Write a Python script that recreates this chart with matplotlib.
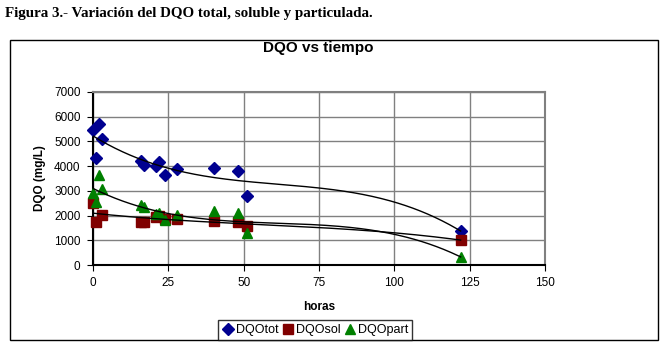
import numpy as np
import matplotlib.pyplot as plt
from matplotlib.patches import Rectangle

# Data
horas_tot = [0, 1, 2, 3, 16, 17, 21, 22, 24, 28, 40, 48, 51, 122]
dqo_tot = [5480, 4310, 5720, 5080, 4210, 4040, 4000, 4170, 3660, 3900, 3930, 3810, 2810, 1380]

horas_sol = [0, 1, 3, 16, 17, 21, 22, 24, 28, 40, 48, 51, 122]
dqo_sol = [2520, 1720, 2020, 1760, 1760, 1960, 2000, 1880, 1860, 1770, 1720, 1560, 1010]

horas_part = [0, 1, 2, 3, 16, 17, 21, 22, 24, 28, 40, 48, 51, 122]
dqo_part = [2920, 2540, 3640, 3060, 2430, 2330, 2050, 2110, 1820, 2020, 2190, 2090, 1290, 330]

plt.rcParams['font.family'] = ['Liberation Sans', 'DejaVu Sans']

fig = plt.figure(figsize=(6.65, 3.6), dpi=100)
fig.text(0.008, 0.963, 'Figura 3.- Variación del DQO total, soluble y particulada.',
         family='Liberation Serif', fontweight='bold', fontsize=10.8, va='center')
fig.patches.append(Rectangle((10 / 665, 1 - 340 / 360), 648 / 665, 300 / 360,
                             transform=fig.transFigure, fill=False, ec='black', lw=1))

ax = fig.add_axes([93 / 665, 1 - 265 / 360, 452 / 665, 173 / 360])

series = [
    (horas_tot, dqo_tot, 'D', '#000090', 'DQOtot', 6.5),
    (horas_sol, dqo_sol, 's', '#800000', 'DQOsol', 7.5),
    (horas_part, dqo_part, '^', '#008000', 'DQOpart', 7.5),
]
xs = np.linspace(0, 122, 200)
for x, y, m, c, lab, ms in series:
    ax.plot(x, y, m, color=c, ms=ms, mec=c, label=lab, zorder=3, clip_on=False)
    # Excel-style polynomial trendline
    coef = np.polyfit(x, y, 3)
    ax.plot(xs, np.polyval(coef, xs), color='black', lw=1, zorder=4)

ax.set_xlim(0, 150)
ax.set_ylim(0, 7000)
ax.set_xticks(range(0, 151, 25))
ax.set_yticks(range(0, 7001, 1000))
ax.grid(True, color='#808080', lw=1)
ax.set_axisbelow(True)
for s in ax.spines.values():
    s.set_color('#808080')
    s.set_linewidth(1.5)
ax.spines['left'].set_color('black')
ax.spines['bottom'].set_color('black')
ax.tick_params(labelsize=8.5, length=4, direction='out', pad=5)

ax.set_xlabel('horas', fontsize=8.5, fontweight='bold', labelpad=8)
ax.set_ylabel('DQO (mg/L)', fontsize=8.5, fontweight='bold', labelpad=6)
fig.text(318 / 665, 1 - 48 / 360, 'DQO vs tiempo', ha='center', va='center',
         fontsize=11, fontweight='bold')

leg = fig.legend(loc='center', bbox_to_anchor=(315 / 665, 1 - 330 / 360), ncol=3,
                 fontsize=9, frameon=True, fancybox=False, handletextpad=0.1,
                 columnspacing=0.3, handlelength=1.0, borderpad=0.3)
leg.get_frame().set_edgecolor('black')
leg.get_frame().set_linewidth(1)

fig.savefig('out.png', dpi=100)
